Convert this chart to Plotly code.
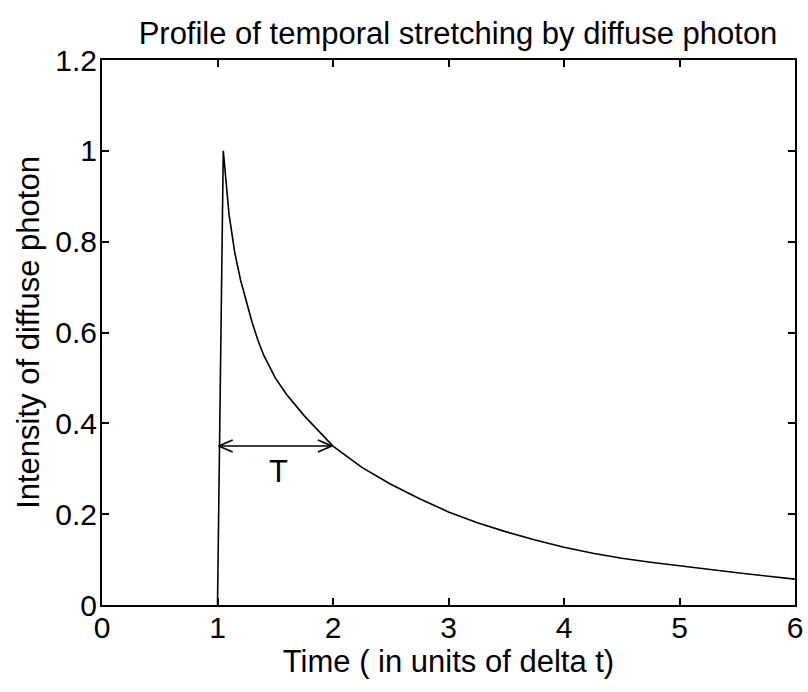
import plotly.graph_objects as go

# ---- data ----
time_t = [1.0, 1.05, 1.10, 1.15, 1.20, 1.25, 1.30, 1.35, 1.40, 1.50, 1.60, 1.75,
          1.90, 2.00, 2.25, 2.50, 2.75, 3.00, 3.25, 3.50, 3.75, 4.00, 4.25,
          4.50, 4.75, 5.00, 5.25, 5.50, 5.75, 6.00]
intensity = [0.0, 1.0, 0.86, 0.775, 0.715, 0.667, 0.622, 0.583, 0.550, 0.500,
             0.463, 0.417, 0.377, 0.350, 0.303, 0.266, 0.234, 0.205, 0.181,
             0.161, 0.143, 0.127, 0.114, 0.103, 0.094, 0.086, 0.078, 0.071,
             0.064, 0.057]

x_ticks = [0, 1, 2, 3, 4, 5, 6]
y_ticks = [0, 0.2, 0.4, 0.6, 0.8, 1.0, 1.2]

arrow_start = 1.01
arrow_end = 1.99
arrow_level = 0.35
label_text = "T"

W, H = 808, 692
ML, MR, MT, MB = 102, 13, 60, 87
x_range = [0, 6]
y_range = [0, 1.2]
px_x = (x_range[1] - x_range[0]) / (W - ML - MR)
px_y = (y_range[1] - y_range[0]) / (H - MT - MB)

font_family = "Liberation Sans, Arial, sans-serif"
FS = 30
FT = 31

fig = go.Figure()
fig.add_trace(go.Scatter(x=time_t, y=intensity, mode="lines",
                         line=dict(color="black", width=1.6), showlegend=False,
                         hoverinfo="skip"))

# double-headed arrow (line + open chevrons)
arm_dx = 14 * px_x
arm_dy = 6 * px_y
fig.add_trace(go.Scatter(x=[arrow_start, arrow_end], y=[arrow_level, arrow_level],
                         mode="lines", line=dict(color="black", width=1.6),
                         showlegend=False, hoverinfo="skip"))
fig.add_trace(go.Scatter(
    x=[arrow_start + arm_dx, arrow_start, arrow_start + arm_dx, None,
       arrow_end - arm_dx, arrow_end, arrow_end - arm_dx],
    y=[arrow_level + arm_dy, arrow_level, arrow_level - arm_dy, None,
       arrow_level + arm_dy, arrow_level, arrow_level - arm_dy],
    mode="lines", line=dict(color="black", width=1.8),
    showlegend=False, hoverinfo="skip"))

fig.add_annotation(x=1.53, y=arrow_level - 0.055,
                   text=label_text, showarrow=False,
                   font=dict(family=font_family, size=31, color="black"))

axis_common = dict(
    showline=True, linecolor="black", linewidth=2, mirror="ticks",
    ticks="inside", ticklen=7, tickwidth=1.5, tickcolor="black",
    showgrid=False, zeroline=False, automargin=False,
    tickfont=dict(family=font_family, size=FS, color="black"),
)

fig.update_layout(
    width=W, height=H,
    margin=dict(l=ML, r=MR, t=MT, b=MB, autoexpand=False),
    paper_bgcolor="white", plot_bgcolor="white",
    title=dict(text="Profile of temporal stretching by diffuse photon",
               x=458 / W, xanchor="center",
               y=1 - 33 / H, yanchor="middle",
               font=dict(family=font_family, size=FT, color="black")),
    xaxis=dict(range=x_range, tickvals=x_ticks, ticklabelstandoff=-5,
               title=dict(text="Time ( in units of delta t)", standoff=7,
                          font=dict(family=font_family, size=FT, color="black")),
               **axis_common),
    yaxis=dict(range=y_range, tickvals=y_ticks, ticklabelstandoff=-3,
               title=dict(text="Intensity of diffuse photon", standoff=6,
                          font=dict(family=font_family, size=FT, color="black")),
               **axis_common),
)

fig.write_html("out.html")
